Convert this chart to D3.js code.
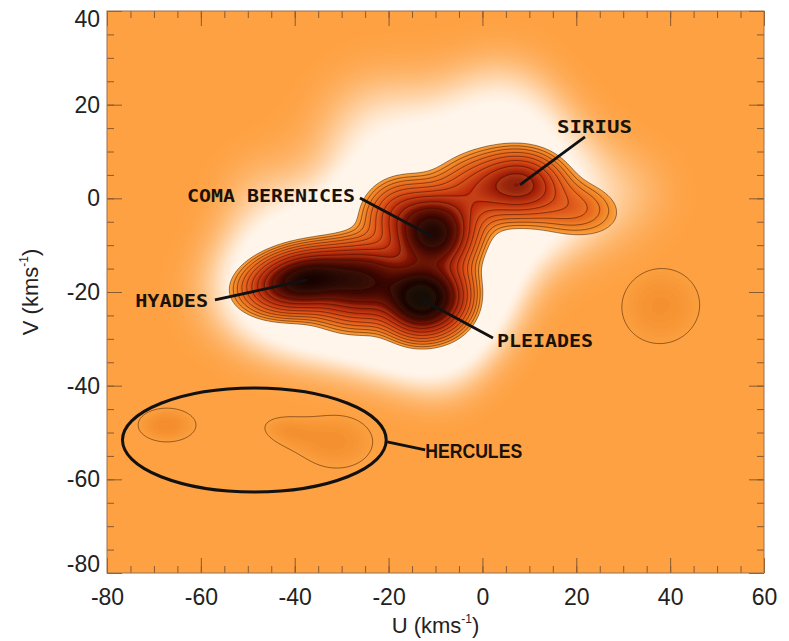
<!DOCTYPE html>
<html><head><meta charset="utf-8">
<script src="https://cdn.jsdelivr.net/npm/d3@7"></script>
<style>body{margin:0;background:#fff} svg{display:block}</style>
</head><body>
<svg id="c" width="789" height="641"></svg>
<script>
// ---------- data ----------
const uTicks = [-80,-60,-40,-20,0,20,40,60];
const vTicks = [-80,-60,-40,-20,0,20,40];
const uMinor = d3.range(-80, 61, 5);
const vMinor = d3.range(-80, 41, 5);

// density components (moving groups), km/s
const compName  = ["Hyades","Pleiades","Coma Berenices","Sirius","Hya-Ple bridge","Coma wing","Coma-Sirius bridge","Sirius tail","Pleiades shoulder","Hercules A","Hercules B","Hercules B tip","U=38 clump"];
const compU     = [-38, -13, -10.5,  8,  -25, -18,  -2,  19,  -7,  -67.3, -31,  -44, 38];
const compV     = [-17.5,-21.5,-7.5, 3,  -18,  -3,   1,  -2, -20,  -48.4, -52,  -49, -23];
const compSu    = [6.3, 4.3, 4.6, 5.2,   6.0, 4.5, 5.5, 6.0, 3.5,   7.6, 10.5, 5.0, 11.5];
const compSv    = [3.4, 4.0, 4.4, 3.9,   4.5, 4.0, 4.5, 3.6, 4.5,   4.5, 7.7, 3.0, 11.0];
const compTilt  = [10,  0,   0,   0,     10,  30,  20,  -5,  0,     0,   0,   -10, 20];
const compAmp   = [1.05,1.35,1.0, 0.45,  0.8, 0.22,0.22,0.12,0.2,   0.055,0.052,0.025,0.052];
const compHalo  = [1,   1,   1,   0.8,   0.6, 0.5, 0.5, 0.5, 0.5,   0,    0,   0,   0];

// extra pale (white) regions around the groups, km/s
const haloU = [-22, 4, -48, 34, -8];
const haloV = [14, 19, 2, 2, -38];
const haloS = [11, 10, 8, 8, 7];
const haloW = [0.33, 0.33, 0.15, 0.1, 0.1];

// contour line levels
const lineLevels = [0.04,0.056,0.078,0.11,0.154,0.215,0.30,0.42,0.59,0.83,1.16];

// Hercules ellipse (km/s)
const hercEllipse = {U:-48.6, V:-51.6, rU:28.1, rV:11.1};

// annotations: text position, leader start, leader end (km/s)
const labelText = ["SIRIUS","COMA BERENICES","HYADES","PLEIADES"];
const labelU    = [15.9, -62.95, -74.0, 3.1];
const labelV    = [13.95, -0.79, -23.2, -31.75];
const labelLen  = [75, 168, 73, 96];
const leadU0    = [21.85, -26.1, -57.0, 2.25];
const leadV0    = [13.1, 0.07, -21.7, -29.8];
const leadU1    = [8.0, -10.5, -37.4, -12.7];
const leadV1    = [2.85, -8.26, -17.4, -21.7];
const hercLabel = {text:"HERCULES", U:-12.2, V:-55.45, len:97, u0:-20.3, v0:-52.0, u1:-12.2, v1:-53.7};

// ---------- layout ----------
const svg = d3.select("#c");
const L=107, R=764, T=11, B=573;
const x = d3.scaleLinear().domain([-80,60]).range([L,R]);
const y = d3.scaleLinear().domain([-80,40]).range([B,T]);

const bg = "#FEA142", white = "#FFF5EA";

// ---------- grid ----------
const du = 0.4, nx = Math.round(140/du), ny = Math.round(120/du);
const D = new Float64Array(nx*ny), H = new Float64Array(nx*ny);
const haloPad = 6.5;
for (let j=0;j<ny;j++){
  const v = 40 - (j+0.5)*du;
  for (let i=0;i<nx;i++){
    const u = -80 + (i+0.5)*du;
    let d=0, h=0;
    for (let k=0;k<compU.length;k++){
      const th = compTilt[k]*Math.PI/180, c=Math.cos(th), s=Math.sin(th);
      const dx=u-compU[k], dy=v-compV[k];
      const a=(dx*c+dy*s), b=(-dx*s+dy*c);
      d += compAmp[k]*Math.exp(-0.5*((a/compSu[k])**2+(b/compSv[k])**2));
      if (compHalo[k]>0){
        h += compHalo[k]*Math.sqrt(Math.min(1,compAmp[k]))*Math.exp(-0.5*((a/(compSu[k]+haloPad))**2+(b/(compSv[k]+haloPad))**2));
      }
    }
    for (let k=0;k<haloU.length;k++){
      const dx=u-haloU[k], dy=v-haloV[k];
      h += haloW[k]*Math.exp(-0.5*(dx*dx+dy*dy)/(haloS[k]*haloS[k]));
    }
    D[j*nx+i]=d; H[j*nx+i]=h;
  }
}
const proj = d3.geoTransform({point(px,py){ this.stream.point(x(-80+px*du), y(40-py*du)); }});
const path = d3.geoPath(proj);

svg.append("defs").append("clipPath").attr("id","clip")
  .append("rect").attr("x",L).attr("y",T).attr("width",R-L).attr("height",B-T);
const plot = svg.append("g").attr("clip-path","url(#clip)");
plot.append("rect").attr("x",L).attr("y",T).attr("width",R-L).attr("height",B-T).attr("fill",bg);

// halo
const hTh = d3.range(0.02, 0.9, 0.012);
const hCol = t => { const s = Math.min(1, Math.max(0,(t-0.02)/0.55)); return d3.interpolateRgb(bg, white)(s*s*(3-2*s)); };
plot.append("g").selectAll("path")
  .data(d3.contours().size([nx,ny]).thresholds(hTh)(H))
  .join("path").attr("d",path).attr("fill",d=>hCol(d.value));

// density fill (smooth colour ramp, lightened just inside each contour line)
const dCol = d3.scaleLog()
  .domain([0.04,0.056,0.1,0.18,0.3,0.45,0.65,0.9,1.45])
  .range(["#FA9B3A","#F28A2A","#E6661B","#D84814","#B82508","#8E1203","#560700","#260200","#000000"])
  .clamp(true);
function bandCol(v){
  let k = d3.bisectRight(lineLevels, v) - 1;
  let frac = 0;
  if (k >= 0 && k < lineLevels.length-1) frac = Math.log(v/lineLevels[k])/Math.log(lineLevels[k+1]/lineLevels[k]);
  const base = d3.color(dCol(v));
  return d3.interpolateRgb(base, "#FFB050")(0.2*(1-frac)*(v<0.5?1:0.4));
}
const fTh = d3.range(0, 90).map(k => 0.04*Math.pow(1.6/0.04, k/89));
plot.append("g").selectAll("path")
  .data(d3.contours().size([nx,ny]).thresholds(fTh)(D))
  .join("path").attr("d",path).attr("fill",d=>bandCol(d.value));

// contour lines
plot.append("g").selectAll("path")
  .data(d3.contours().size([nx,ny]).thresholds(lineLevels)(D))
  .join("path").attr("d",path).attr("fill","none")
  .attr("stroke","#3a1600").attr("stroke-width",0.7).attr("stroke-opacity",0.75);

// Hercules ellipse
plot.append("ellipse")
  .attr("cx",x(hercEllipse.U)).attr("cy",y(hercEllipse.V))
  .attr("rx",x(hercEllipse.U+hercEllipse.rU)-x(hercEllipse.U))
  .attr("ry",y(hercEllipse.V)-y(hercEllipse.V+hercEllipse.rV))
  .attr("fill","none").attr("stroke","#111").attr("stroke-width",3);

// leaders
const ann = svg.append("g");
labelText.forEach((t,i)=>{
  ann.append("line").attr("x1",x(leadU0[i])).attr("y1",y(leadV0[i]))
    .attr("x2",x(leadU1[i])).attr("y2",y(leadV1[i]))
    .attr("stroke","#111").attr("stroke-width",2.8);
  ann.append("text").attr("x",x(labelU[i])).attr("y",y(labelV[i]))
    .attr("font-family","DejaVu Sans Mono").attr("font-weight","bold").attr("font-size",18)
    .attr("textLength",labelLen[i]).attr("lengthAdjust","spacingAndGlyphs")
    .attr("fill","#1a1208").text(t);
});
ann.append("line").attr("x1",x(hercLabel.u0)).attr("y1",y(hercLabel.v0))
  .attr("x2",x(hercLabel.u1)).attr("y2",y(hercLabel.v1))
  .attr("stroke","#111").attr("stroke-width",2.8);
ann.append("text").attr("x",x(hercLabel.U)).attr("y",y(hercLabel.V))
  .attr("font-family","Liberation Sans").attr("font-weight","bold").attr("font-size",21)
  .attr("textLength",hercLabel.len).attr("lengthAdjust","spacingAndGlyphs")
  .attr("fill","#1a1208").text(hercLabel.text);

// ---------- axes ----------
const axCol = "#8a5a30";
function styleAxis(g){ g.select(".domain").remove(); g.selectAll(".tick line").attr("stroke",axCol); }
svg.append("g").attr("transform",`translate(0,${B})`).call(d3.axisBottom(x).tickValues(uMinor).tickSize(-7).tickFormat("")).call(styleAxis);
svg.append("g").attr("transform",`translate(0,${T})`).call(d3.axisTop(x).tickValues(uMinor).tickSize(-7).tickFormat("")).call(styleAxis);
svg.append("g").attr("transform",`translate(${L},0)`).call(d3.axisLeft(y).tickValues(vMinor).tickSize(-7).tickFormat("")).call(styleAxis);
svg.append("g").attr("transform",`translate(${R},0)`).call(d3.axisRight(y).tickValues(vMinor).tickSize(-7).tickFormat("")).call(styleAxis);

const fmt = d => String(d);
const xb = svg.append("g").attr("transform",`translate(0,${B})`).call(d3.axisBottom(x).tickValues(uTicks).tickSize(-15).tickFormat(fmt)).call(styleAxis);
svg.append("g").attr("transform",`translate(0,${T})`).call(d3.axisTop(x).tickValues(uTicks).tickSize(-15).tickFormat("")).call(styleAxis);
const yl = svg.append("g").attr("transform",`translate(${L},0)`).call(d3.axisLeft(y).tickValues(vTicks).tickSize(-15).tickFormat(fmt)).call(styleAxis);
svg.append("g").attr("transform",`translate(${R},0)`).call(d3.axisRight(y).tickValues(vTicks).tickSize(-15).tickFormat("")).call(styleAxis);

[xb,yl].forEach(g=>g.selectAll(".tick text").attr("font-family","Liberation Sans, Arial, sans-serif").attr("font-size",23).attr("fill","#222"));
xb.selectAll(".tick text").attr("y",16).attr("dy","0.71em");
yl.selectAll(".tick text").attr("x",-7).attr("y", d => d===40 ? 8 : (d===-80 ? -9 : 0));

svg.append("rect").attr("x",L).attr("y",T).attr("width",R-L).attr("height",B-T)
  .attr("fill","none").attr("stroke","#9a7050").attr("stroke-width",1);

// titles
const xt = svg.append("text").attr("x",(L+R)/2).attr("y",633).attr("text-anchor","middle")
  .attr("font-family","Liberation Sans, Arial, sans-serif").attr("font-size",22).attr("fill","#222");
xt.append("tspan").text("U (kms");
xt.append("tspan").attr("font-size",12).attr("dy",-10).text("-1");
xt.append("tspan").attr("dy",10).text(")");
const yt = svg.append("text").attr("transform",`translate(38,${(T+B)/2}) rotate(-90)`).attr("text-anchor","middle")
  .attr("font-family","Liberation Sans, Arial, sans-serif").attr("font-size",22).attr("fill","#222");
yt.append("tspan").text("V (kms");
yt.append("tspan").attr("font-size",12).attr("dy",-10).text("-1");
yt.append("tspan").attr("dy",10).text(")");
</script>
</body></html>
